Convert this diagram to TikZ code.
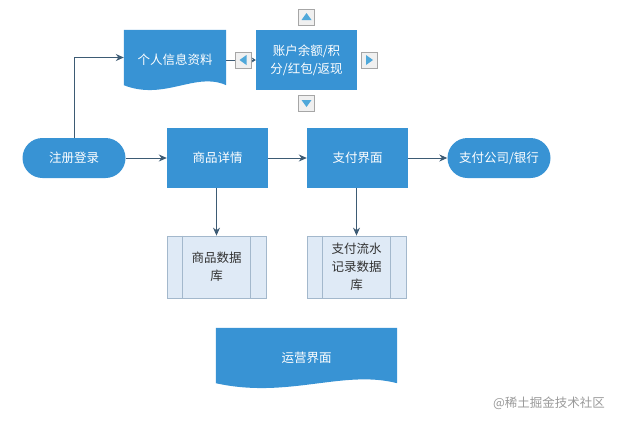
\documentclass[tikz,border=0pt]{standalone}
\usepackage{fontspec}
\setmainfont{Noto Sans CJK SC}
\usetikzlibrary{arrows.meta,calc}
\definecolor{boxblue}{HTML}{3893D4}
\definecolor{lineblue}{HTML}{3D5B74}
\definecolor{dbfill}{HTML}{DFEAF6}
\definecolor{dbline}{HTML}{A3B8CC}
\definecolor{tri}{HTML}{4FA8DA}
\tikzset{
  box/.style={fill=boxblue,text=white,minimum width=101pt,minimum height=60pt,inner sep=2pt,align=center,font=\fontsize{12.5}{18}\selectfont},
  stad/.style={fill=boxblue,text=white,minimum width=103pt,minimum height=40pt,rounded corners=20pt,font=\fontsize{12.5}{16}\selectfont},
  docnode/.style={minimum height=55pt,inner sep=0pt,text=white,font=\fontsize{12.5}{17}\selectfont},
  db/.style={fill=dbfill,draw=dbline,line width=0.8pt,minimum width=99pt,minimum height=62pt,align=center,font=\fontsize{12.5}{18}\selectfont,text=black!80},
  btn/.style={fill=black!6,draw=black!35,line width=0.6pt,minimum width=16pt,minimum height=16pt,inner sep=0pt},
  arr/.style={draw=lineblue,line width=1pt,-{Stealth[length=8pt,width=7pt]}},
  smallarr/.style={draw=lineblue,line width=1pt,-{Stealth[length=4pt,width=5pt]}},
  ln/.style={draw=lineblue,line width=1pt}
}
\newcommand\docfill[1]{%
  \fill[boxblue] (#1.north west) -- (#1.north east) -- (#1.south east)
    .. controls ($(#1.south east)+(-0.3*\wid,-14)$) and ($(#1.south west)+(0.4*\wid,16)$) .. (#1.south west) -- cycle;}
\newcommand\dbl[1]{%
  \draw[dbline,line width=0.8pt] ([xshift=16pt]#1.north west) -- ([xshift=16pt]#1.south west);
  \draw[dbline,line width=0.8pt] ([xshift=-16pt]#1.north east) -- ([xshift=-16pt]#1.south east);}
\begin{document}
\begin{tikzpicture}[x=1pt,y=-1pt]
\useasboundingbox (0,0) rectangle (621,424);
% top row
\node[docnode,minimum width=102pt] (info) at (175,57.5) {};
\def\wid{102}\docfill{info}
\node[docnode] (infot) at (175,60) {个人信息资料};
\node[box] (acct) at (306.5,60) {账户余额/积\\分/红包/返现};
\node[btn] (bl) at (243.5,60) {};
\node[btn] (br) at (369,60) {};
\node[btn] (bu) at (306.5,17) {};
\node[btn] (bd) at (306.5,103) {};
\fill[tri] ($(bl.center)+(-4,0)$) -- ($(bl.center)+(3,-5)$) -- ($(bl.center)+(3,5)$) -- cycle;
\fill[tri] ($(br.center)+(4,0)$) -- ($(br.center)+(-3,-5)$) -- ($(br.center)+(-3,5)$) -- cycle;
\fill[tri] ($(bu.center)+(0,-4)$) -- ($(bu.center)+(-5,3)$) -- ($(bu.center)+(5,3)$) -- cycle;
\fill[tri] ($(bd.center)+(0,4)$) -- ($(bd.center)+(-5,-3)$) -- ($(bd.center)+(5,-3)$) -- cycle;
% main row
\node[stad] (reg) at (74,158) {注册登录};
\node[box] (goods) at (217.5,158) {商品详情};
\node[box] (pay) at (357.5,158) {支付界面};
\node[stad] (bank) at (499,158) {支付公司/银行};
% databases
\node[db] (db1) at (216.5,267) {商品数据\\库};
\node[db] (db2) at (356.5,267) {支付流水\\记录数据\\库};
\dbl{db1}\dbl{db2}
% operations
\node[docnode,minimum width=181pt] (ops) at (306.5,355.5) {};
\def\wid{181}\docfill{ops}
\node[docnode] (opst) at (306.5,358) {运营界面};
% connectors
\draw[arr] (reg.north) |- (info.west);
\draw[ln] (info.east |- bl) -- (bl.west);
\draw[smallarr] (bl.east) -- (acct.west);
\draw[arr] (reg.east) -- (goods.west);
\draw[arr] (goods.east) -- (pay.west);
\draw[arr] (pay.east) -- (bank.west);
\draw[arr] (goods.south -| db1) -- (db1.north);
\draw[arr] (pay.south -| db2) -- (db2.north);
% watermark
\node[text=black!40,font=\fontsize{12.5}{14}\selectfont] (wm) at (549,403) {@稀土掘金技术社区};
\end{tikzpicture}
\end{document}
